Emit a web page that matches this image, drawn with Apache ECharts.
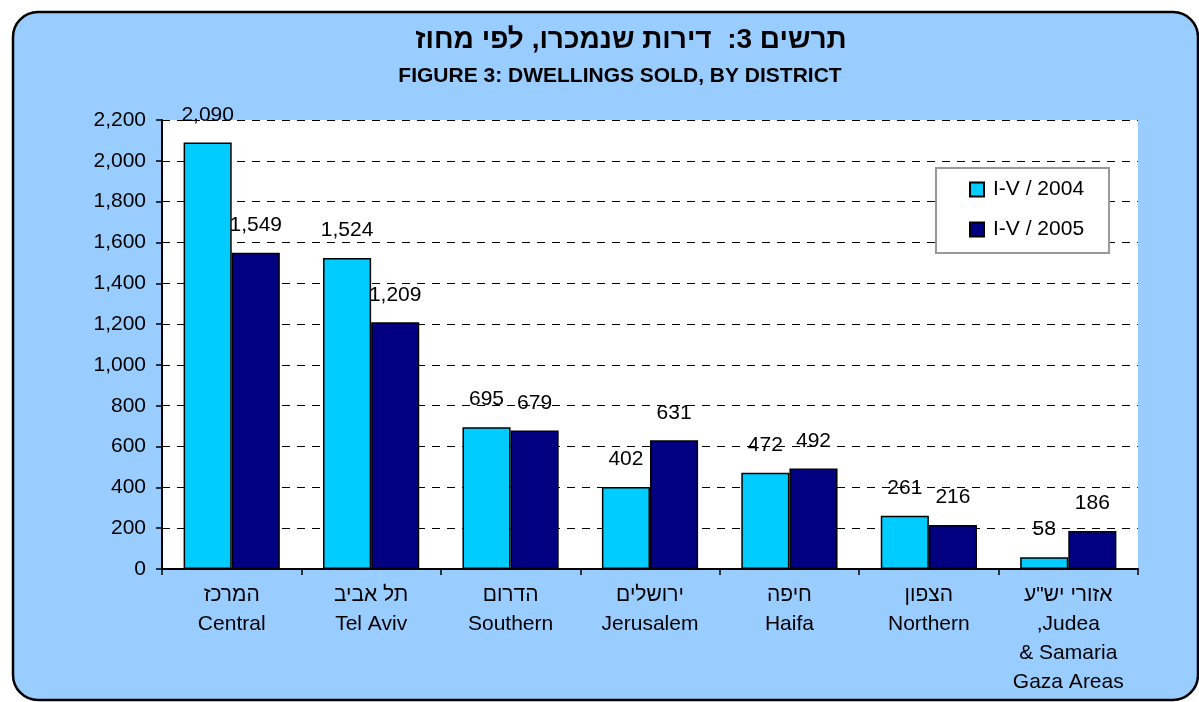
<!DOCTYPE html>
<html>
<head>
<meta charset="utf-8">
<script src="https://cdn.jsdelivr.net/npm/echarts@6/dist/echarts.min.js"></script>
<style>
  html, body { margin: 0; padding: 0; background: #fff; }
  #main { width: 1199px; height: 702px; }
</style>
</head>
<body>
<div id="main"></div>
<script>
// נתונים
var categories = [
  'המרכז\nCentral',
  'תל אביב\nTel Aviv',
  'הדרום\nSouthern',
  'ירושלים\nJerusalem',
  'חיפה\nHaifa',
  'הצפון\nNorthern',
  'אזורי יש"ע\n,Judea\n& Samaria\nGaza Areas'
];
var sold2004 = [2090, 1524, 695, 402, 472, 261, 58];
var sold2005 = [1549, 1209, 679, 631, 492, 216, 186];
var seriesNames = ['I-V / 2004', 'I-V / 2005'];
var titleHe = 'תרשים 3:  דירות שנמכרו, לפי מחוז';
var titleEn = 'FIGURE 3: DWELLINGS SOLD, BY DISTRICT';

var font = "'Liberation Sans', Arial, sans-serif";
var fmt = function (v) { return Number(v).toLocaleString('en-US'); };

var myChart = echarts.init(document.getElementById('main'));

function barSeries(name, data, color) {
  return {
    name: name,
    type: 'bar',
    data: data,
    barGap: '0%',
    barCategoryGap: '31%',
    itemStyle: { color: color, borderColor: '#000', borderWidth: 1.5 },
    label: {
      show: true,
      position: 'top',
      distance: 17,
      color: '#000',
      fontFamily: font,
      fontSize: 21,
      formatter: function (p) { return fmt(p.value); }
    }
  };
}

var option = {
  animation: false,
  textStyle: { fontFamily: font },
  // מסגרת מעוגלת ורקע תכלת
  graphic: [{
    type: 'rect',
    z: -10,
    silent: true,
    shape: { x: 13, y: 12, width: 1185, height: 688, r: 25 },
    style: { fill: '#99CCFF', stroke: '#000', lineWidth: 2.5 }
  }],
  title: [
    {
      text: titleHe,
      left: 631, top: 26, textAlign: 'center', padding: 0,
      textStyle: { fontFamily: font, fontSize: 28, fontWeight: 'bold', color: '#000' }
    },
    {
      text: titleEn,
      left: 620, top: 66, textAlign: 'center', padding: 0,
      textStyle: { fontFamily: font, fontSize: 21, fontWeight: 'bold', color: '#000' }
    }
  ],
  legend: {
    orient: 'vertical',
    left: 936, top: 168,
    padding: [11, 25, 13, 33],
    backgroundColor: '#fff',
    borderColor: '#999',
    borderWidth: 2,
    borderRadius: 0,
    itemWidth: 14,
    itemHeight: 14,
    itemGap: 19,
    icon: 'rect',
    textStyle: { fontFamily: font, fontSize: 21, color: '#000', padding: [0, 0, 0, 4] },
    data: seriesNames
  },
  grid: {
    left: 162, right: 61, top: 120, bottom: 133,
    show: true, backgroundColor: '#fff', borderWidth: 0
  },
  xAxis: {
    type: 'category',
    data: categories,
    axisLine: { lineStyle: { color: '#000', width: 2 } },
    axisTick: { show: true, length: 6, interval: 0, lineStyle: { color: '#000', width: 1.5 } },
    axisLabel: {
      interval: 0, margin: 12, color: '#000',
      fontFamily: font, fontSize: 21, lineHeight: 29
    }
  },
  yAxis: {
    type: 'value',
    min: 0, max: 2200, interval: 200,
    axisLine: { show: true, lineStyle: { color: '#000', width: 2 } },
    axisTick: { show: true, length: 6, lineStyle: { color: '#000', width: 1.5 } },
    axisLabel: { color: '#000', fontFamily: font, fontSize: 21, margin: 16, formatter: fmt },
    splitLine: { lineStyle: { color: '#000', type: [8, 7], width: 1 } }
  },
  series: [
    barSeries(seriesNames[0], sold2004, '#00CCFF'),
    barSeries(seriesNames[1], sold2005, '#000080')
  ]
};
myChart.setOption(option);
window.addEventListener('resize', function () { myChart.resize(); });
</script>
</body>
</html>
